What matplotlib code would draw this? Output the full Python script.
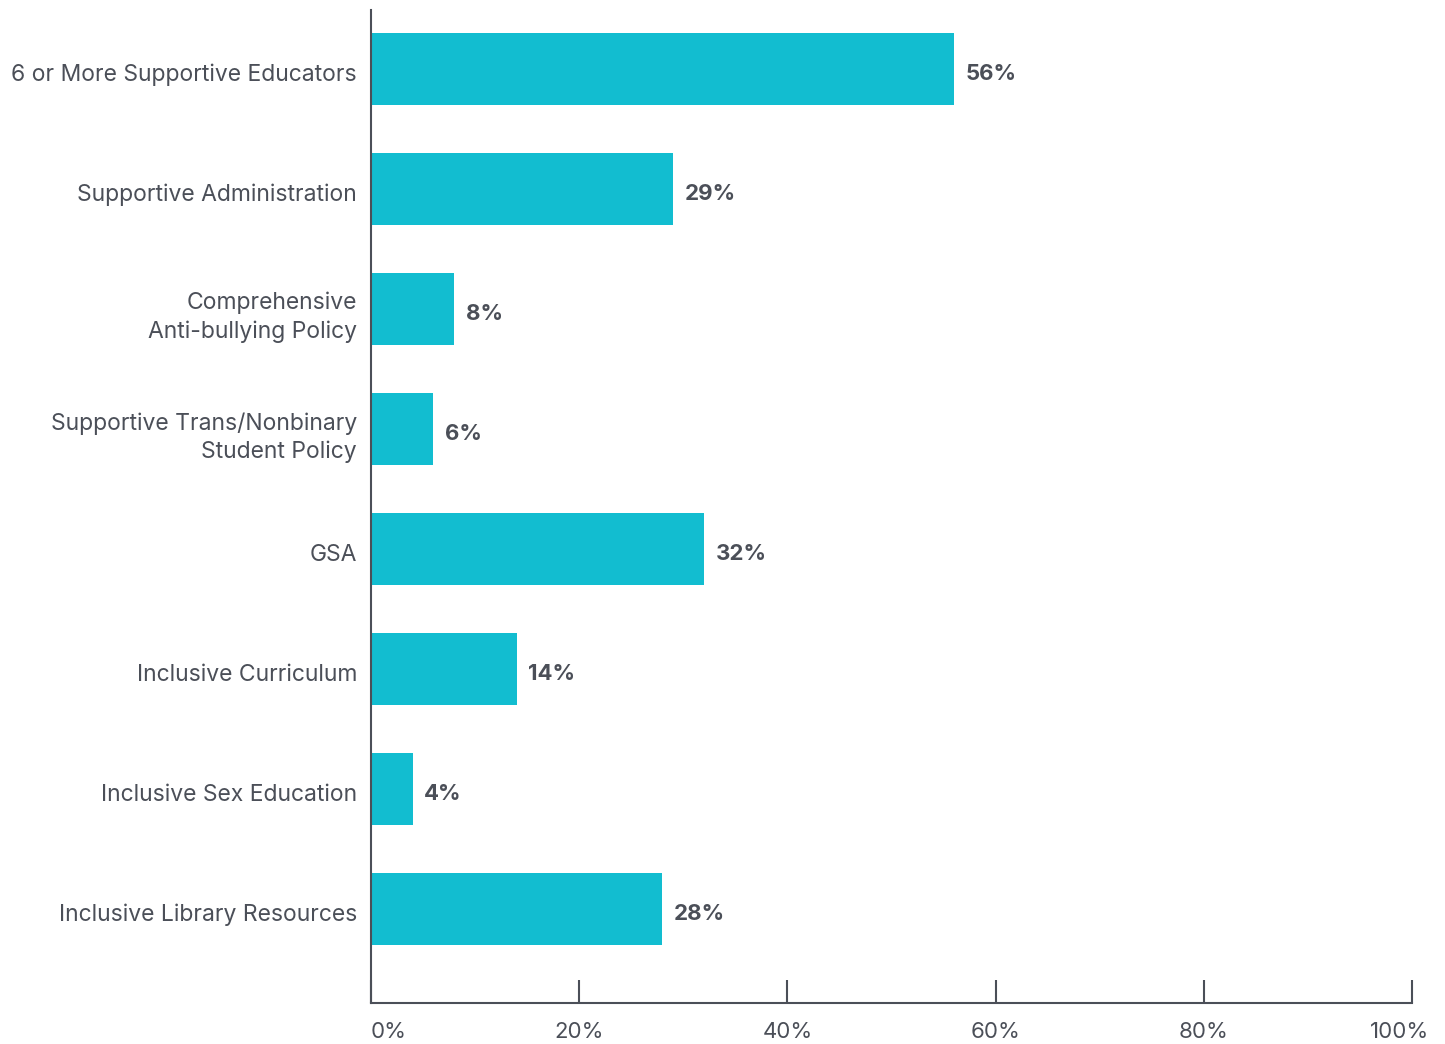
import matplotlib
matplotlib.use("Agg")
import matplotlib.pyplot as plt
import matplotlib.transforms as mtransforms

plt.rcParams['font.family'] = ['Inter', 'DejaVu Sans']

categories = [
    "6 or More Supportive Educators",
    "Supportive Administration",
    "Comprehensive\nAnti-bullying Policy",
    "Supportive Trans/Nonbinary\nStudent Policy",
    "GSA",
    "Inclusive Curriculum",
    "Inclusive Sex Education",
    "Inclusive Library Resources",
]
values = [56, 29, 8, 6, 32, 14, 4, 28]
xticks = [0, 20, 40, 60, 80, 100]
xtick_labels = ["0%", "20%", "40%", "60%", "80%", "100%"]

bar_color = "#12BDD0"
text_color = "#4B4F58"
axis_color = "#4B4F58"

fig = plt.figure(figsize=(14.45, 10.44), dpi=100)
ax = fig.add_axes([371 / 1445, 1 - 1003 / 1044, (1412 - 371) / 1445, (1003 - 10) / 1044])

# small downward nudges so text sits where the reference has it
down = mtransforms.ScaledTranslation(0, -3 / 100, fig.dpi_scale_trans)
down_val = mtransforms.ScaledTranslation(0, -5 / 100, fig.dpi_scale_trans)

pos = list(range(len(categories)))
ax.barh(pos, values, height=0.6, color=bar_color)
for p, v in zip(pos, values):
    ax.text(v + 1.1, p, f"{v}%", va="center", ha="left", fontsize=16,
            fontweight="bold", color=text_color, transform=ax.transData + down_val)

ax.set_xlim(0, 100)
ax.set_ylim(7.78, -0.49)
ax.set_yticks(pos)
ax.set_yticklabels(categories, fontsize=16.5, color=text_color, linespacing=1.35)
ax.tick_params(axis="y", length=0, pad=10)
for lab in ax.get_yticklabels():
    lab.set_transform(lab.get_transform() + down)

ax.set_xticks(xticks)
ax.set_xticklabels(xtick_labels, fontsize=16, color=text_color)
ax.tick_params(axis="x", direction="in", length=16.5, width=1.5, color=axis_color, pad=14)

labels = ax.get_xticklabels()
labels[0].set_horizontalalignment("left")
labels[-1].set_transform(labels[-1].get_transform() +
                         mtransforms.ScaledTranslation(-12 / 100, 0, fig.dpi_scale_trans))

for s in ["top", "right"]:
    ax.spines[s].set_visible(False)
for s in ["left", "bottom"]:
    ax.spines[s].set_color(axis_color)
    ax.spines[s].set_linewidth(1.5)

fig.savefig("out.png", dpi=100)
